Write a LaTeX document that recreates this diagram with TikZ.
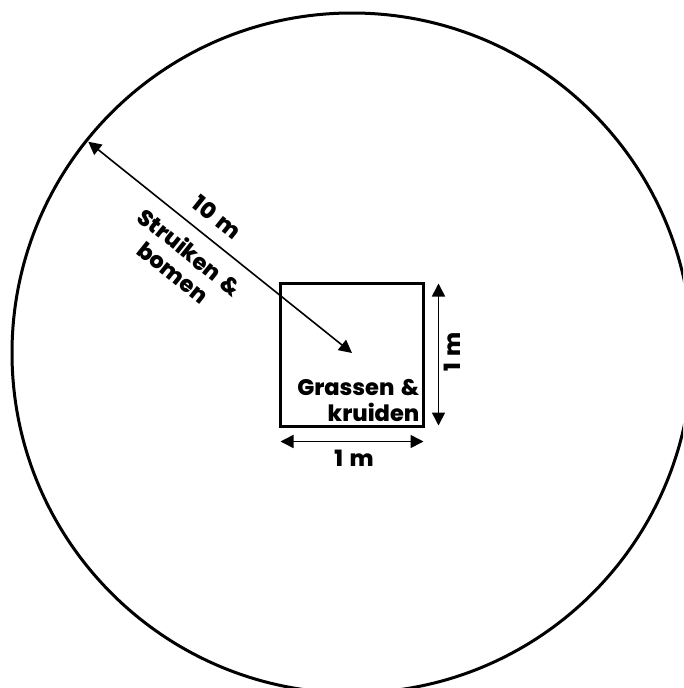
\documentclass[tikz,border=0pt]{standalone}
\usepackage{fontspec}
\setmainfont{Poppins}[BoldFont={* ExtraBold},WordSpace=1.5]
\usetikzlibrary{arrows.meta}
\usetikzlibrary{calc}
\usetikzlibrary{positioning}

\tikzset{
  edge/.style={line width=3pt},
  dimarrow/.style={line width=1.6pt,{Triangle[length=13pt,width=13pt]}-{Triangle[length=13pt,width=13pt]}},
  lbl/.style={font=\bfseries\fontsize{22.5}{26}\selectfont,inner sep=0pt}
}

\begin{document}
\begin{tikzpicture}[x=1pt,y=-1pt]
        \useasboundingbox (0,0) rectangle (683,688);
        \clip (0,0) rectangle (683,688);
        % outer circle, 10 m radius
        \coordinate (centre) at (352,353);
        \draw[edge] (centre) circle [radius=340];
        \coordinate (rim) at ($(centre)+(218.7:338)$);
        % inner plot, 1 m x 1 m
        \node[edge,draw,minimum size=143pt,inner sep=0pt] (plot) at (351.5,354.5) {};
        \draw[dimarrow] (rim) -- (centre);
        \node[lbl,rotate=-38.7] (radlabel) at (217,217) {10 m};
        \node[lbl,rotate=-38.7,align=center] (outerlabel) at (182,262) {Struiken \&\\bomen};
        \node[lbl,align=right,anchor=south east] (innerlabel) at ([xshift=-5pt,yshift=6pt]plot.south east) {Grassen \&\\kruiden};
        % dimension arrows
        \draw[dimarrow] ([xshift=14pt,yshift=-2pt]plot.north east) -- ([xshift=14pt,yshift=2pt]plot.south east);
        \draw[dimarrow] ([xshift=2pt,yshift=-14pt]plot.south west) -- ([xshift=-1pt,yshift=-14pt]plot.south east);
        \node[lbl,rotate=90] (sidelabel) at (452,352) {1 m};
        \node[lbl] (baselabel) at (354,458) {1 m};
      \end{tikzpicture}
\end{document}
